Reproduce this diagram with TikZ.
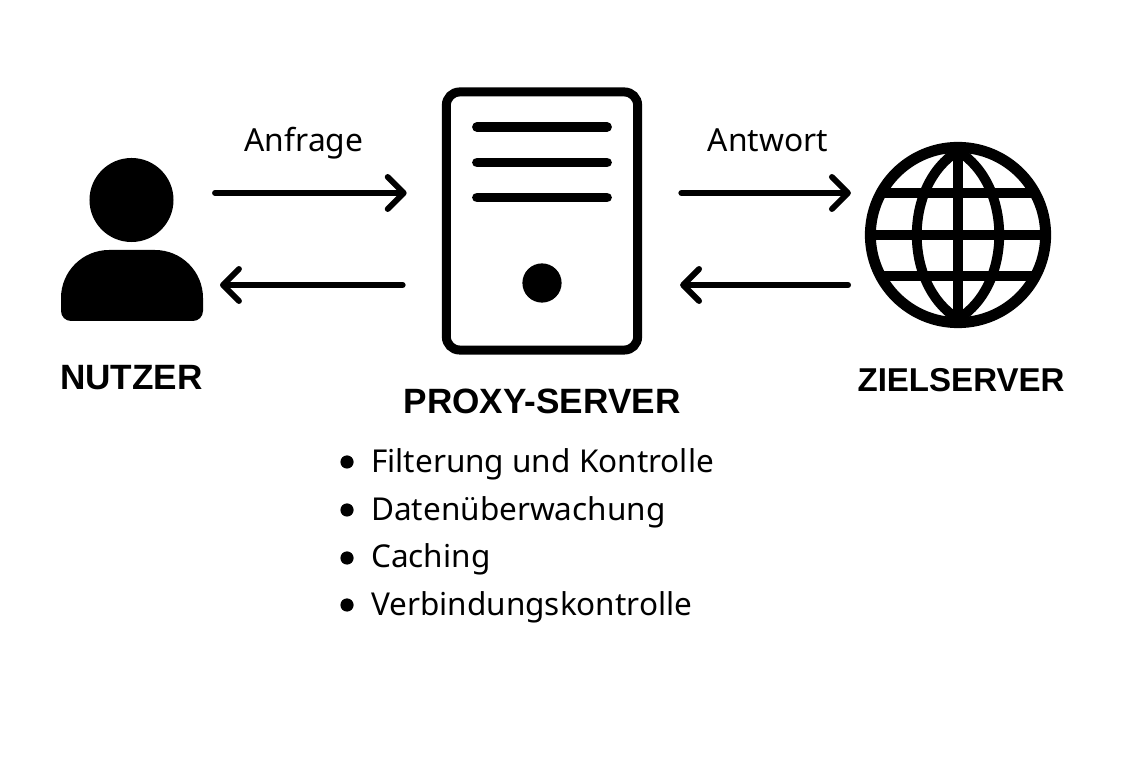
\documentclass[tikz,border=0pt]{standalone}
\usepackage{fontspec}
\setmainfont{Noto Sans}
\newfontfamily\titlefont{Liberation Sans}
\usetikzlibrary{arrows.meta,calc}

\tikzset{
 	flow/.style={line width=4.2pt, line cap=round, -{Straight Barb[length=.4cm,width=.8cm,line width=4.2pt,round]}},
 	label/.style={font=\fontsize{22.6pt}{28pt}\selectfont, inner sep=0pt, anchor=base},
 	title/.style={font=\titlefont\fontsize{25pt}{31pt}\selectfont\bfseries, inner sep=0pt},
 	item/.style={font=\fontsize{22.4pt}{28pt}\selectfont, inner sep=0pt, anchor=base west},
 	dot/.style={circle, fill=black, inner sep=0pt, minimum size=.33cm},
 	bar/.style={line width=7pt, line cap=round},
 	wire/.style={line width=7pt}
}

\begin{document}
\begin{tikzpicture}[x=.025cm, y=-.025cm]
 	\useasboundingbox (0,0) rectangle (1140,760);

 	\coordinate (RowTop) at (0,193);
 	\coordinate (RowBottom) at (0,285);

 	% User
 	\node[circle, fill=black, inner sep=0pt, minimum size=2.1cm] (Head) at (131.5,200) {};
 	\fill[rounded corners=.25cm] (132,321) -- (61,321) [rounded corners=1.2cm] -- (61,250) -- (203,250) [rounded corners=.25cm] -- (203,321) -- cycle;
 	\coordinate (User) at (203,239);
 	\node[title] (NutzerLabel) at (131.5,378) {NUTZER};

 	% Proxy
 	\node[draw, line width=6.4pt, rounded corners=.33cm, minimum width=4.78cm, minimum height=6.45cm] (Server) at (542,221) {};
 	\draw[bar] (477,127) -- (607,127);
 	\draw[bar] (477,162.5) -- (607,162.5);
 	\draw[bar] (477,197.5) -- (607,197.5);
 	\node[dot, minimum size=.98cm] (Light) at (542,283) {};
 	\node[title] (ProxyLabel) at (542,401) {PROXY-SERVER};

 	\node[dot] (DotA) at (347,462) {};
 	\node[item] (ItemA) at (371,473) {Filterung und Kontrolle};
 	\node[dot] (DotB) at (347,510) {};
 	\node[item] (ItemB) at (371,521) {Datenüberwachung};
 	\node[dot] (DotC) at (347,558) {};
 	\node[item] (ItemC) at (371,568) {Caching};
 	\node[dot] (DotD) at (347,605) {};
 	\node[item] (ItemD) at (371,616) {Verbindungskontrolle};

 	% Target
 	\node[circle, draw, line width=7.8pt, inner sep=0pt, minimum size=4.38cm] (Globe) at (958,235) {};
 	\draw[wire] ($(Globe.center)+(0,-86)$) -- ($(Globe.center)+(0,86)$);
 	\draw[wire] ($(Globe.center)+(0,-84)$) .. controls ($(Globe.center)+(-55,-50)$) and ($(Globe.center)+(-55,50)$) .. ($(Globe.center)+(0,84)$);
 	\draw[wire] ($(Globe.center)+(0,-84)$) .. controls ($(Globe.center)+(55,-50)$) and ($(Globe.center)+(55,50)$) .. ($(Globe.center)+(0,84)$);
 	\draw[wire] ($(Globe.center)+(-77,-42)$) -- ($(Globe.center)+(77,-42)$);
 	\draw[wire] (Globe.west) -- (Globe.east);
 	\draw[wire] ($(Globe.center)+(-77,41)$) -- ($(Globe.center)+(77,41)$);
 	\node[title, font=\titlefont\fontsize{23.5pt}{31pt}\selectfont\bfseries] (ZielLabel) at (961,380) {ZIELSERVER};

 	% Arrows
 	\draw[flow, shorten <=.3cm, shorten >=.88cm] (User |- RowTop) -- (Server.west |- RowTop);
 	\draw[flow, shorten <=.98cm, shorten >=.425cm] (Server.west |- RowBottom) -- (User |- RowBottom);
 	\draw[flow, shorten <=.98cm, shorten >=.35cm] (Server.east |- RowTop) -- (Globe.west |- RowTop);
 	\draw[flow, shorten <=.42cm, shorten >=.95cm] (Globe.west |- RowBottom) -- (Server.east |- RowBottom);

 	\node[label] (Anfrage) at (304,152) {Anfrage};
 	\node[label] (Antwort) at (768,152) {Antwort};
\end{tikzpicture}
\end{document}
